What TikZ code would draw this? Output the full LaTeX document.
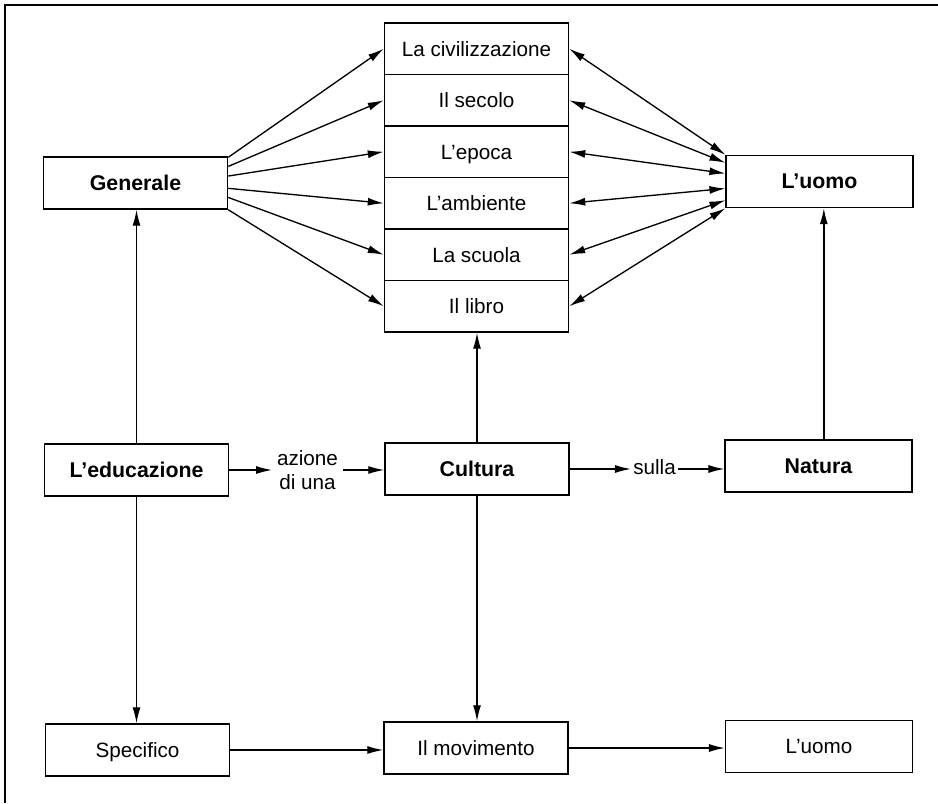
\documentclass[tikz,border=0pt]{standalone}
\usepackage{fontspec}
\setmainfont{Liberation Sans}
\usetikzlibrary{arrows.meta, calc}

\tikzset{
    box/.style = {draw, line width = 1.1pt, minimum width = 138pt, minimum height = 39pt, inner sep = 2pt, text height = 13.5pt, text depth = 2.3pt, font = \fontsize{15.5}{18}\selectfont},
    boldbox/.style = {box, font = \fontsize{16}{19}\selectfont\bfseries},
    lbl/.style = {font = \fontsize{15.5}{18}\selectfont, align = center},
    arr/.style = {line width = 1pt, -{Latex[length = 12pt, width = 6pt]}},
    darr/.style = {line width = 1pt, {Latex[length = 12pt, width = 6pt]}-{Latex[length = 12pt, width = 6pt]}}
}

\begin{document}
\begin{tikzpicture}[x = 0.75pt, y = -0.75pt]
                    \useasboundingbox (0, 0) rectangle (938, 803);
                    \draw[line width = 1.1pt] (938, 5) -- (5, 5) -- (5, 803);

                    \def\sx{476.5}; \def\sy{23}; \def\sh{51.5}
                    \foreach \i/\t in {1/La civilizzazione, 2/Il secolo, 3/L’epoca, 4/L’ambiente, 5/La scuola, 6/Il libro} {
                        \node[box, minimum height = 38.6pt] (s\i) at (\sx, \sy + \i*\sh - 0.5*\sh) {\t};
                    }

                    \node[boldbox] (gen) at (135.5, 183) {Generale};
                    \node[boldbox, minimum width = 140pt] (uomo) at (819.5, 181.5) {L’uomo};
                    \node[boldbox] (edu) at (136.5, 470) {L’educazione};
                    \node[boldbox] (cult) at (477, 469) {Cultura};
                    \node[boldbox, minimum width = 140pt] (nat) at (818.5, 466) {Natura};
                    \node[box] (spec) at (137.5, 750) {Specifico};
                    \node[box] (mov) at (476, 748) {Il movimento};
                    \node[box, minimum width = 140pt] (uomob) at (819, 746.5) {L’uomo};

                    \node[lbl, inner sep = 3.5pt] (az) at (307.5, 470) {azione\\di una};
                    \node[lbl, inner sep = 1.5pt] (sulla) at (654.5, 467) {sulla};

                    \foreach \i/\t in {1/0.02, 2/0.19, 3/0.37, 4/0.6, 5/0.77, 6/1} {
                        \draw[arr] ($(gen.north east)!\t!(gen.south east)$) -- (s\i.west);
                    }
                    \foreach \i/\t in {1/0, 2/0.15, 3/0.35, 4/0.63, 5/0.85, 6/1} {
                        \draw[darr] (s\i.east) -- ($(uomo.north west)!\t!(uomo.south west)$);
                    }

                    \draw[arr] (edu.north) -- (edu.north |- gen.south);
                    \draw[arr] (edu.south) -- (edu.south |- spec.north);
                    \draw[arr] (cult.north) -- (cult.north |- s6.south);
                    \draw[arr] (cult.south) -- (cult.south |- mov.north);
                    \draw[arr] ([xshift = 4pt]nat.north) -- ([xshift = 4pt]nat.north |- uomo.south);

                    \draw[arr] (edu.east) -- (edu.east -| az.west);
                    \draw[arr] (az.east |- edu.east) -- (edu.east -| cult.west);
                    \draw[arr] (cult.east) -- (cult.east -| sulla.west);
                    \draw[arr] (sulla.east |- cult.east) -- (cult.east -| nat.west);
                    \draw[arr] (spec.east) -- (spec.east -| mov.west);
                    \draw[arr] (mov.east) -- (mov.east -| uomob.west);
                \end{tikzpicture}
\end{document}
